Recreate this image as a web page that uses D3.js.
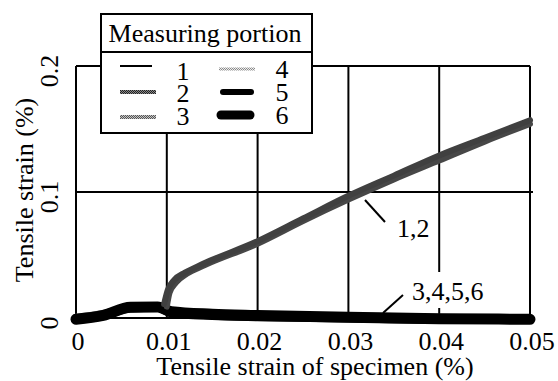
<!DOCTYPE html>
<html>
<head>
<meta charset="utf-8">
<script src="https://cdn.jsdelivr.net/npm/d3@7"></script>
<style>
  html, body { margin: 0; padding: 0; background: #fff; }
  svg { display: block; }
</style>
</head>
<body>
<svg id="chart" width="558" height="381" font-family="'Liberation Serif', 'Times New Roman', Times, 'DejaVu Serif', serif"></svg>
<script>
// Tensile strain of the measuring portions vs. tensile strain of the specimen (%)
const xTicks = [0, 0.01, 0.02, 0.03, 0.04, 0.05];
const xTickLabels = ["0", "0.01", "0.02", "0.03", "0.04", "0.05"];
const yTicks = [0, 0.1, 0.2];
const yTickLabels = ["0", "0.1", "0.2"];

const seriesNames = ["1", "2", "3", "4", "5", "6"];

// portions 1 and 2: strain rises once the specimen passes ~0.01 %
const s1x = [0.0097, 0.0101, 0.0108, 0.0120, 0.0140, 0.020, 0.025, 0.030, 0.035, 0.040, 0.045, 0.050];
const s1y = [0.011, 0.022, 0.030, 0.036, 0.043, 0.061, 0.079, 0.097, 0.113, 0.129, 0.143, 0.157];
const s2x = [0.0100, 0.0103, 0.0110, 0.0122, 0.0142, 0.020, 0.025, 0.030, 0.035, 0.040, 0.045, 0.050];
const s2y = [0.009, 0.020, 0.028, 0.035, 0.042, 0.059, 0.077, 0.094, 0.110, 0.125, 0.140, 0.154];

// portions 3-6: stay close to zero
const s3x = [0, 0.003, 0.006, 0.009, 0.0105, 0.015, 0.020, 0.030, 0.040, 0.050];
const s3y = [0.000, 0.003, 0.008, 0.008, 0.005, 0.003, 0.002, 0.001, 0.000, -0.001];
const s4x = [0, 0.003, 0.006, 0.009, 0.0105, 0.015, 0.020, 0.030, 0.040, 0.050];
const s4y = [0.001, 0.004, 0.009, 0.009, 0.006, 0.004, 0.003, 0.002, 0.001, 0.000];
const s5x = [0, 0.003, 0.006, 0.009, 0.0105, 0.015, 0.020, 0.030, 0.040, 0.050];
const s5y = [-0.001, 0.002, 0.008, 0.0085, 0.004, 0.002, 0.001, 0.000, -0.001, -0.001];
const s6x = [0, 0.003, 0.006, 0.009, 0.0105, 0.015, 0.020, 0.030, 0.040, 0.050];
const s6y = [-0.001, 0.002, 0.0085, 0.0088, 0.005, 0.003, 0.002, 0.0005, -0.0005, -0.001];

const svg = d3.select("#chart");
const FONT = 26;

const x = d3.scaleLinear().domain([0, 0.05]).range([76, 530]);
const y = d3.scaleLinear().domain([0, 0.2]).range([318, 66]);

// hatched fills used by the legend samples
const defs = svg.append("defs");
function checker(id, dark, light) {
  const p = defs.append("pattern").attr("id", id)
    .attr("width", 2).attr("height", 2).attr("patternUnits", "userSpaceOnUse");
  p.append("rect").attr("width", 2).attr("height", 2).attr("fill", light);
  p.append("rect").attr("width", 1).attr("height", 1).attr("fill", dark);
  p.append("rect").attr("x", 1).attr("y", 1).attr("width", 1).attr("height", 1).attr("fill", dark);
}
checker("pat2", "#222", "#8a8a8a");
checker("pat3", "#555", "#c4c4c4");
checker("pat4", "#8a8a8a", "#ececec");

// grid and frame
const grid = svg.append("g").attr("stroke", "#000").attr("stroke-width", 2).attr("fill", "none");
grid.selectAll("line.v").data(xTicks).join("line").attr("class", "v")
  .attr("x1", d => x(d)).attr("x2", d => x(d))
  .attr("y1", y(0.2)).attr("y2", y(0));
grid.selectAll("line.h").data(yTicks).join("line").attr("class", "h")
  .attr("x1", x(0)).attr("x2", d => d === 0.1 ? x(0.05) + 3 : x(0.05))
  .attr("y1", d => y(d)).attr("y2", d => y(d));

// tick labels
svg.append("g").selectAll("text").data(xTicks).join("text")
  .attr("x", d => x(d) + 2).attr("y", 350)
  .attr("text-anchor", "middle").attr("font-size", FONT)
  .text((d, i) => xTickLabels[i]);
svg.append("g").selectAll("text").data(yTicks).join("text")
  .attr("transform", d => `translate(58,${y(d) + 5}) rotate(-90)`)
  .attr("text-anchor", "middle").attr("font-size", FONT)
  .text((d, i) => yTickLabels[i]);

// axis titles
svg.append("text").attr("x", 315).attr("y", 375).attr("text-anchor", "middle")
  .attr("font-size", FONT).text("Tensile strain of specimen (%)");
svg.append("text").attr("transform", "translate(33,190) rotate(-90)")
  .attr("text-anchor", "middle").attr("font-size", FONT).text("Tensile strain (%)");

// curves
const line = d3.line().x(d => x(d[0])).y(d => y(d[1])).curve(d3.curveMonotoneX);
const zip = (xs, ys) => xs.map((v, i) => [v, ys[i]]);
const curves = [
  { pts: zip(s3x, s3y), color: "#666", width: 6 },
  { pts: zip(s4x, s4y), color: "#777", width: 6 },
  { pts: zip(s5x, s5y), color: "#000", width: 9 },
  { pts: zip(s6x, s6y), color: "#000", width: 11 },
  { pts: zip(s2x, s2y), color: "#474747", width: 6 },
  { pts: zip(s1x, s1y), color: "#404040", width: 6 }
];
svg.append("g").selectAll("path").data(curves).join("path")
  .attr("d", d => line(d.pts))
  .attr("fill", "none")
  .attr("stroke", d => d.color)
  .attr("stroke-width", d => d.width)
  .attr("stroke-linecap", "round")
  .attr("stroke-linejoin", "round");

// annotations
const ann = svg.append("g");
ann.append("line").attr("x1", 365).attr("y1", 200).attr("x2", 385).attr("y2", 222)
  .attr("stroke", "#000").attr("stroke-width", 2);
ann.append("text").attr("x", 397).attr("y", 237).attr("font-size", FONT).text("1,2");
ann.append("rect").attr("x", 408).attr("y", 272).attr("width", 80).attr("height", 36).attr("fill", "#fff");
ann.append("line").attr("x1", 383).attr("y1", 313).attr("x2", 403).attr("y2", 295)
  .attr("stroke", "#000").attr("stroke-width", 2);
ann.append("text").attr("x", 412).attr("y", 300).attr("font-size", FONT).text("3,4,5,6");

// legend
const lg = svg.append("g");
lg.append("rect").attr("x", 101).attr("y", 14).attr("width", 211).attr("height", 119)
  .attr("fill", "#fff").attr("stroke", "#000").attr("stroke-width", 2);
lg.append("line").attr("x1", 101).attr("x2", 312).attr("y1", 52).attr("y2", 52)
  .attr("stroke", "#000").attr("stroke-width", 2);
lg.append("text").attr("x", 205).attr("y", 42).attr("text-anchor", "middle")
  .attr("font-size", FONT).text("Measuring portion");

const legendItems = [
  { kind: "line", x1: 120, x2: 152, cy: 66, w: 2, color: "#000", tx: 183, ty: 80 },
  { kind: "rect", x1: 120, x2: 156, cy: 92, w: 4, color: "url(#pat2)", tx: 183, ty: 102 },
  { kind: "rect", x1: 120, x2: 156, cy: 117, w: 4, color: "url(#pat3)", tx: 183, ty: 125 },
  { kind: "rect", x1: 219, x2: 255, cy: 69, w: 3, color: "url(#pat4)", tx: 282, ty: 78 },
  { kind: "line", x1: 223, x2: 251, cy: 92, w: 6, color: "#000", tx: 282, ty: 101 },
  { kind: "line", x1: 221, x2: 250, cy: 115, w: 9, color: "#000", tx: 282, ty: 124 }
];
const items = lg.selectAll("g.item").data(legendItems).join("g").attr("class", "item");
items.filter(d => d.kind === "line").append("line")
  .attr("x1", d => d.x1).attr("x2", d => d.x2).attr("y1", d => d.cy).attr("y2", d => d.cy)
  .attr("stroke", d => d.color).attr("stroke-width", d => d.w)
  .attr("stroke-linecap", d => d.w > 3 ? "round" : "butt");
items.filter(d => d.kind === "rect").append("rect")
  .attr("x", d => d.x1).attr("width", d => d.x2 - d.x1)
  .attr("y", d => d.cy - d.w / 2).attr("height", d => d.w)
  .attr("fill", d => d.color);

// the numbers are stacked tightly, so each legend column is one text block
const columns = [legendItems.slice(0, 3), legendItems.slice(3, 6)];
lg.selectAll("text.col").data(columns).join("text").attr("class", "col")
  .attr("text-anchor", "middle").attr("font-size", FONT)
  .selectAll("tspan").data((col, ci) => col.map((d, i) => ({ d, name: seriesNames[ci * 3 + i] })))
  .join("tspan")
  .attr("x", e => e.d.tx).attr("y", e => e.d.ty)
  .text(e => e.name);
</script>
</body>
</html>
